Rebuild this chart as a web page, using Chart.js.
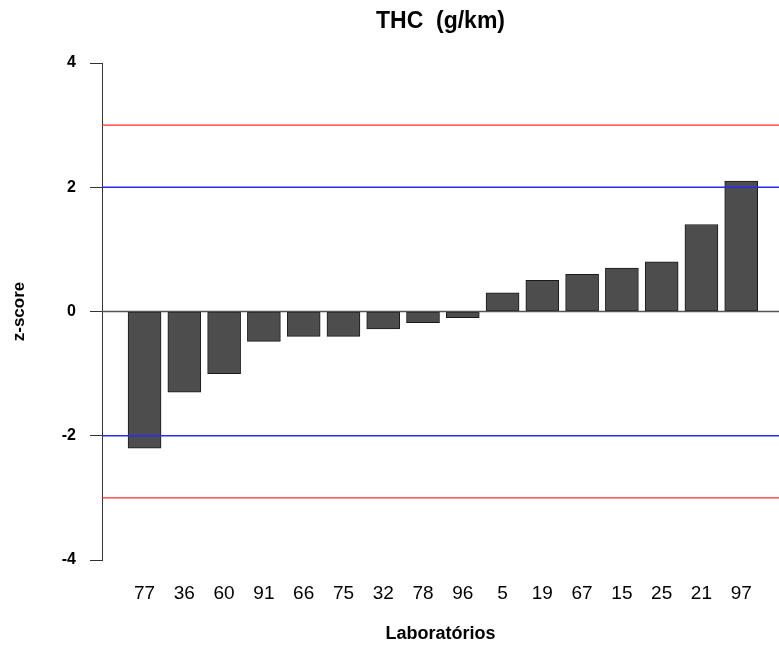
<!DOCTYPE html>
<html>
<head>
<meta charset="utf-8">
<script src="https://cdn.jsdelivr.net/npm/chart.js@4/dist/chart.umd.min.js"></script>
<style>
  html, body { margin: 0; padding: 0; background: #fff; }
  #wrap { width: 779px; height: 648px; }
</style>
</head>
<body>
<div id="wrap"><canvas id="zchart"></canvas></div>
<script>
const labs = ['77', '36', '60', '91', '66', '75', '32', '78', '96', '5', '19', '67', '15', '25', '21', '97']
const zscores = [-2.2, -1.3, -1.0, -0.48, -0.4, -0.4, -0.28, -0.18, -0.1, 0.3, 0.5, 0.6, 0.7, 0.8, 1.4, 2.1]
const yticks = [-4, -2, 0, 2, 4]
const ref_levels = [3, 2, 0, -2, -3]
const ref_colors = ['#ff2a2a', '#2a2aff', '#555555', '#2a2aff', '#ff2a2a']

const fam = '"Liberation Sans", Arial, sans-serif'
const xmin = -1.07
const xmax = 15.95

const bar_data = labs.map((l, i) => ({ x: i, y: zscores[i] }))

const ref_sets = ref_levels.map((lv, i) => ({
    type: 'line',
    data: [{ x: xmin, y: lv }, { x: xmax, y: lv }],
    borderColor: ref_colors[i],
    borderWidth: 1.3,
    pointRadius: 0,
    fill: false,
    order: 1
}))

const ctx = document.getElementById('zchart')
const chart = new Chart(ctx, {
    type: 'bar',
    data: {
        datasets: [{
            label: 'z-score',
            data: bar_data,
            backgroundColor: '#4d4d4d',
            borderColor: '#1a1a1a',
            borderWidth: 1,
            borderSkipped: false,
            barThickness: 33,
            order: 2
        }].concat(ref_sets)
    },
    options: {
        responsive: true,
        maintainAspectRatio: false,
        animation: false,
        layout: { padding: 0 },
        plugins: {
            legend: { display: false },
            tooltip: { enabled: false }
        },
        scales: {
            x: {
                type: 'linear',
                min: xmin,
                max: xmax,
                offset: false,
                grid: { display: false, drawTicks: false, offset: false },
                border: { display: false },
                afterBuildTicks: (scale) => {
                    scale.ticks = labs.map((l, i) => ({ value: i }))
                },
                afterFit: (scale) => { scale.height = 88 },
                ticks: {
                    autoSkip: false,
                    maxRotation: 0,
                    padding: 22,
                    color: '#000',
                    font: { family: fam, size: 19 },
                    callback: (v) => labs[v]
                },
                title: {
                    display: true,
                    text: 'Laboratórios',
                    color: '#000',
                    font: { family: fam, size: 18, weight: 'bold' },
                    padding: { top: 0, bottom: 3 }
                }
            },
            // top axis only carries the main title, centred over the plot region
            top: {
                type: 'linear',
                position: 'top',
                min: xmin,
                max: xmax,
                offset: false,
                grid: { display: false, drawTicks: false },
                border: { display: false },
                ticks: { display: false },
                afterFit: (scale) => { scale.height = 63 },
                title: {
                    display: true,
                    text: 'THC  (g/km)',
                    color: '#000',
                    font: { family: fam, size: 23, weight: 'bold' },
                    padding: { top: 8, bottom: 0 }
                }
            },
            y: {
                min: -4,
                max: 4,
                afterBuildTicks: (scale) => {
                    scale.ticks = yticks.map(v => ({ value: v }))
                },
                afterFit: (scale) => { scale.width = 102 },
                grid: {
                    display: true,
                    drawOnChartArea: false,
                    drawTicks: true,
                    tickLength: 12,
                    color: '#333'
                },
                border: { display: true, color: '#333', width: 1 },
                ticks: {
                    padding: 14,
                    color: '#000',
                    font: { family: fam, size: 16, weight: 'bold' }
                },
                title: {
                    display: true,
                    text: 'z-score',
                    color: '#000',
                    font: { family: fam, size: 17, weight: 'bold' },
                    padding: { top: 9, bottom: 0 }
                }
            }
        }
    }
})
</script>
</body>
</html>
